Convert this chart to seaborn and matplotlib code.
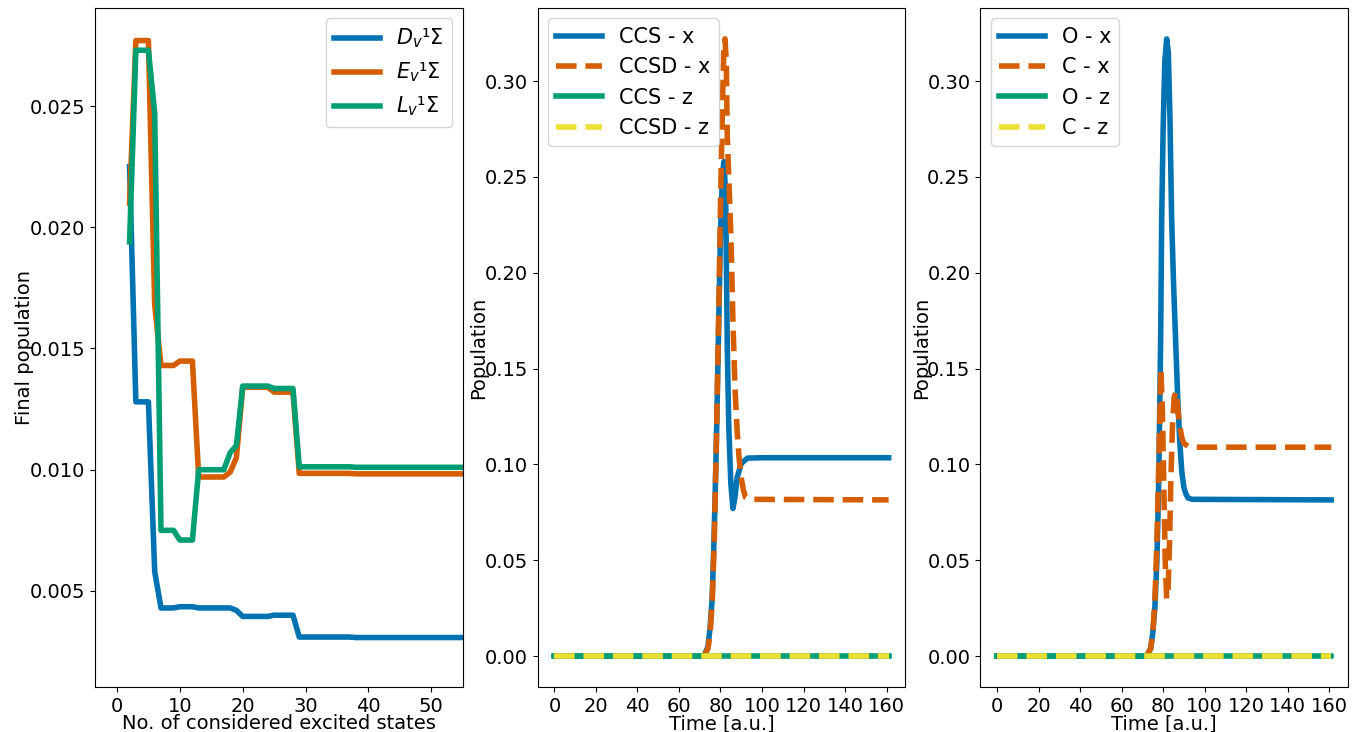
import seaborn as sns
import matplotlib.pyplot as plt

# Final populations vs number of excited states
n_states = list(range(2, 56))
pop_D = [0.0225, 0.0128, 0.0128, 0.0128, 0.0058, 0.0043, 0.0043, 0.0043, 0.00435, 0.00435,
         0.00435, 0.0043, 0.0043, 0.0043, 0.0043, 0.0043, 0.0043, 0.0042, 0.00395, 0.00395,
         0.00395, 0.00395, 0.00395, 0.0040, 0.0040, 0.0040, 0.0040, 0.0031, 0.0031, 0.0031,
         0.0031, 0.0031, 0.0031, 0.0031, 0.0031, 0.0031, 0.00308, 0.00308, 0.00308, 0.00308,
         0.00308, 0.00308, 0.00308, 0.00308, 0.00308, 0.00308, 0.00308, 0.00308, 0.00308, 0.00308,
         0.00308, 0.00308, 0.00308, 0.00308]
pop_E = [0.0210, 0.0277, 0.0277, 0.0277, 0.0168, 0.0143, 0.0143, 0.0143, 0.01448, 0.01448,
         0.01448, 0.0097, 0.0097, 0.0097, 0.0097, 0.0097, 0.0099, 0.0105, 0.0134, 0.0134,
         0.0134, 0.0134, 0.0134, 0.0132, 0.0132, 0.0132, 0.0132, 0.00985, 0.00985, 0.00985,
         0.00985, 0.00985, 0.00985, 0.00985, 0.00985, 0.00985, 0.00983, 0.00983, 0.00983, 0.00983,
         0.00983, 0.00983, 0.00983, 0.00983, 0.00983, 0.00983, 0.00983, 0.00983, 0.00983, 0.00983,
         0.00983, 0.00983, 0.00983, 0.00983]
pop_L = [0.0194, 0.0273, 0.0273, 0.0273, 0.0247, 0.0075, 0.0075, 0.0075, 0.0071, 0.0071,
         0.0071, 0.0100, 0.0100, 0.0100, 0.0100, 0.0100, 0.0107, 0.0110, 0.01345, 0.01345,
         0.01345, 0.01345, 0.01345, 0.01335, 0.01335, 0.01335, 0.01335, 0.01012, 0.01012, 0.01012,
         0.01012, 0.01012, 0.01012, 0.01012, 0.01012, 0.01012, 0.0101, 0.0101, 0.0101, 0.0101,
         0.0101, 0.0101, 0.0101, 0.0101, 0.0101, 0.0101, 0.0101, 0.0101, 0.0101, 0.0101,
         0.0101, 0.0101, 0.0101, 0.0101]

# Time-dependent populations, CCS vs CCSD
t_ccs_x = [0, 72, 74, 75, 76, 77, 78, 79, 80, 81, 81.7, 82.5, 83.3, 84, 85, 86, 87, 88, 90, 93, 100, 161]
pop_ccs_x = [0, 0, 0.005, 0.015, 0.03, 0.065, 0.11, 0.165, 0.22, 0.252, 0.258, 0.24, 0.16, 0.12,
             0.09, 0.077, 0.083, 0.093, 0.1005, 0.1033, 0.1035, 0.1035]
t_ccsd_x = [0, 72, 74, 75, 76, 77, 78, 79, 80, 81, 81.6, 82.2, 82.8, 83.3, 84, 85, 86, 87, 88, 89,
            90, 91, 92, 94, 161]
pop_ccsd_x = [0, 0, 0.004, 0.012, 0.028, 0.06, 0.11, 0.17, 0.235, 0.29, 0.315, 0.322, 0.31, 0.27,
              0.25, 0.22, 0.175, 0.14, 0.118, 0.103, 0.093, 0.087, 0.083, 0.0818, 0.0815]
t_flat = [0, 161]
pop_ccs_z = [0, 0]
pop_ccsd_z = [0, 0]

# Time-dependent populations, O vs C
t_o_x = [0, 72, 74, 75, 76, 77, 77.9, 78.8, 79.3, 80, 80.8, 81.7, 82.5, 83.3, 84.1, 85, 86, 87,
         88, 89, 90, 91, 92, 94, 161]
pop_o_x = [0, 0, 0.004, 0.012, 0.025, 0.05, 0.092, 0.165, 0.228, 0.275, 0.31, 0.322, 0.315, 0.28,
           0.228, 0.195, 0.165, 0.135, 0.112, 0.096, 0.088, 0.0845, 0.0825, 0.0818, 0.0815]
t_c_x = [0, 72, 74, 75, 76, 77, 78, 78.9, 79.6, 80.3, 81, 81.7, 82.4, 83.1, 83.8, 84.5, 85.3, 86.2,
         87, 88, 89, 90, 92, 95, 161]
pop_c_x = [0, 0, 0.004, 0.012, 0.028, 0.06, 0.105, 0.15, 0.13, 0.09, 0.05, 0.03, 0.035, 0.06,
           0.095, 0.12, 0.135, 0.138, 0.13, 0.12, 0.114, 0.111, 0.1095, 0.109, 0.109]
pop_o_z = [0, 0]
pop_c_z = [0, 0]

pal = sns.color_palette("colorblind")
c_blue, c_orange, c_green, c_yellow = pal[0], pal[3], pal[2], pal[8]
lw = 4
fs = 14     # ticks / axis labels
lfs = 15    # legend

plt.rcParams["font.family"] = ["DejaVu Sans"]
plt.rcParams["font.size"] = fs

fig, axes = plt.subplots(1, 3, figsize=(13.63, 7.32), dpi=100)
fig.subplots_adjust(left=0.0697, right=0.989, bottom=0.0615, top=0.989, wspace=0.204)

# Left panel
ax = axes[0]
sns.lineplot(x=n_states, y=pop_D, ax=ax, color=c_blue, lw=lw, label="$D_v$¹Σ")
sns.lineplot(x=n_states, y=pop_E, ax=ax, color=c_orange, lw=lw, label="$E_v$¹Σ")
sns.lineplot(x=n_states, y=pop_L, ax=ax, color=c_green, lw=lw, label="$L_v$¹Σ")
ax.set_xlim(-3.5, 55)
ax.set_ylim(0.00104, 0.02904)
ax.set_xlabel("No. of considered excited states", fontsize=fs, labelpad=-1)
ax.set_ylabel("Final population", fontsize=fs, labelpad=-3)
ax.legend(loc="upper right", fontsize=lfs, handlelength=2.2)

# Middle panel
ax = axes[1]
sns.lineplot(x=t_ccs_x, y=pop_ccs_x, ax=ax, color=c_blue, lw=lw, label="CCS - x")
sns.lineplot(x=t_ccsd_x, y=pop_ccsd_x, ax=ax, color=c_orange, lw=lw, ls="--", label="CCSD - x")
sns.lineplot(x=t_flat, y=pop_ccs_z, ax=ax, color=c_green, lw=lw, label="CCS - z")
sns.lineplot(x=t_flat, y=pop_ccsd_z, ax=ax, color=c_yellow, lw=lw, ls="--", label="CCSD - z")
ax.set_xlabel("Time [a.u.]", fontsize=fs, labelpad=-1)
ax.set_ylabel("Population", fontsize=fs, labelpad=-2.5)
ax.set_xticks(range(0, 161, 20))
ax.legend(loc="upper left", fontsize=lfs, handlelength=2.2)

# Right panel
ax = axes[2]
sns.lineplot(x=t_o_x, y=pop_o_x, ax=ax, color=c_blue, lw=lw, label="O - x")
sns.lineplot(x=t_c_x, y=pop_c_x, ax=ax, color=c_orange, lw=lw, ls="--", label="C - x")
sns.lineplot(x=t_flat, y=pop_o_z, ax=ax, color=c_green, lw=lw, label="O - z")
sns.lineplot(x=t_flat, y=pop_c_z, ax=ax, color=c_yellow, lw=lw, ls="--", label="C - z")
ax.set_xlabel("Time [a.u.]", fontsize=fs, labelpad=-1)
ax.set_ylabel("Population", fontsize=fs, labelpad=-2.5)
ax.set_xticks(range(0, 161, 20))
ax.legend(loc="upper left", fontsize=lfs, handlelength=2.2)

for ax in axes:
    ax.tick_params(labelsize=fs)

plt.savefig("out.png", dpi=100)
